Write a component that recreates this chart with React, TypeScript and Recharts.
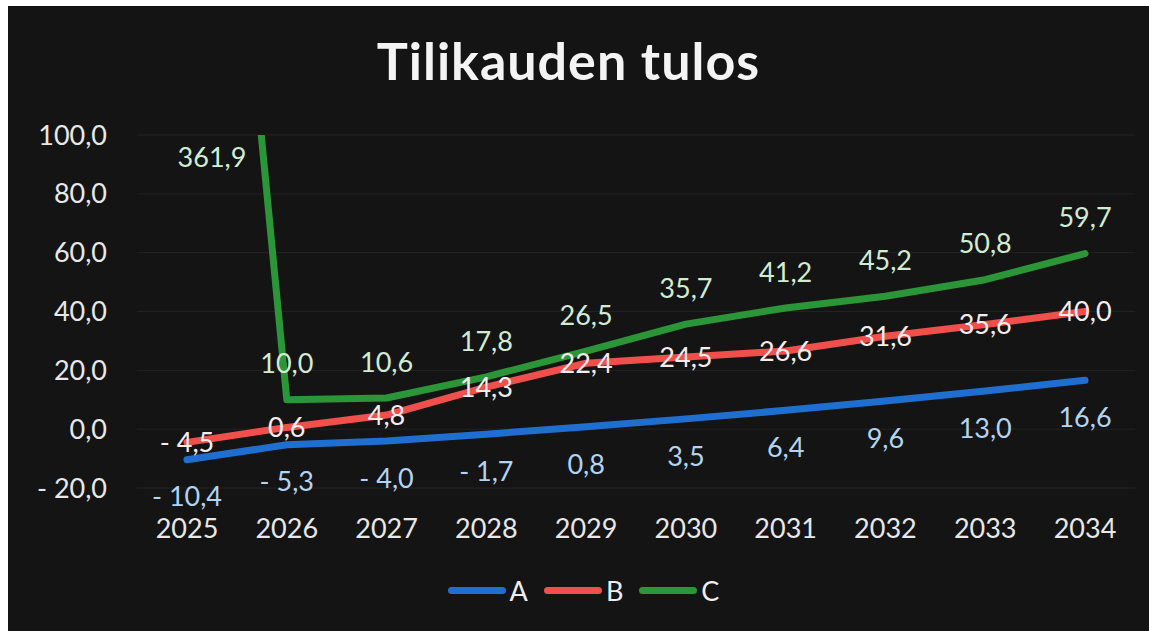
import React from 'react';
import { LineChart, Line, XAxis, YAxis, CartesianGrid, Legend, LabelList } from 'recharts';

const years = ['2025', '2026', '2027', '2028', '2029', '2030', '2031', '2032', '2033', '2034'];
const seriesA = [-10.4, -5.3, -4.0, -1.7, 0.8, 3.5, 6.4, 9.6, 13.0, 16.6];
const seriesB = [-4.5, 0.6, 4.8, 14.3, 22.4, 24.5, 26.6, 31.6, 35.6, 40.0];
const seriesC = [361.9, 10.0, 10.6, 17.8, 26.5, 35.7, 41.2, 45.2, 50.8, 59.7];
const yTicks = [-20, 0, 20, 40, 60, 80, 100];
const seriesNames = ['A', 'B', 'C'];

const data = years.map((year, i) => ({ year, A: seriesA[i], B: seriesB[i], C: seriesC[i] }));

const FONT = 'Lato, "Open Sans", sans-serif';
const FS = 27;
const Y_MIN = -20;
const Y_MAX = 100;
const MARGIN = { top: 129, right: 14, left: 29, bottom: 83 };

const COLORS: Record<string, string> = { A: '#1f6fd1', B: '#f0504c', C: '#2b9638' };
const LABEL_COLORS: Record<string, string> = { A: '#b3d3f2', B: '#f6ecec', C: '#d2ecd2' };

const fmt = (v: number) => (v < 0 ? '- ' : '') + Math.abs(v).toFixed(1).replace('.', ',');

const makeLabel = (key: string, offset: number) => (props: any) => {
  const { x, y, value } = props;
  if (x == null || y == null || value == null) return null;
  let cx = Number(x);
  let cy = Number(y) + offset;
  if (Number(value) > Y_MAX) {
    cx = cx + 25;
    cy = MARGIN.top + 22;
  }
  return (
    <text
      x={cx}
      y={cy + FS * 0.36}
      textAnchor="middle"
      fill={LABEL_COLORS[key]}
      fontSize={FS}
      fontFamily={FONT}
    >
      {fmt(Number(value))}
    </text>
  );
};

const renderLegend = () => (
  <div
    style={{
      display: 'flex',
      justifyContent: 'center',
      alignItems: 'center',
      height: 44,
      paddingLeft: 26,
      fontFamily: FONT,
      fontSize: FS,
      color: '#eeeeee',
    }}
  >
    {seriesNames.map((n) => (
      <div key={n} style={{ display: 'flex', alignItems: 'center', marginRight: 16 }}>
        <div style={{ width: 58, height: 7, borderRadius: 4, background: COLORS[n], marginRight: 4 }} />
        <span>{n}</span>
      </div>
    ))}
  </div>
);

export default function App() {
  return (
    <div style={{ position: 'absolute', left: 8, top: 6, width: 1141, height: 625, background: '#141414' }}>
      <div
        style={{
          position: 'absolute',
          left: -10,
          top: 28,
          width: 1141,
          textAlign: 'center',
          fontFamily: FONT,
          fontWeight: 700,
          fontSize: 52,
          lineHeight: '52px',
          color: '#f4f4f4',
          letterSpacing: 1,
        }}
      >
        Tilikauden tulos
      </div>
      <LineChart width={1141} height={625} data={data} margin={MARGIN}>
        <CartesianGrid vertical={false} stroke="#222222" strokeWidth={1} />
        <XAxis
          dataKey="year"
          padding={{ left: 50, right: 50 }}
          axisLine={false}
          tickLine={false}
          tickMargin={25}
          height={60}
          tick={{ fill: '#e8e8e8', fontSize: FS, fontFamily: FONT }}
          interval={0}
        />
        <YAxis
          domain={[Y_MIN, Y_MAX]}
          ticks={yTicks}
          allowDataOverflow
          axisLine={false}
          tickLine={false}
          tickMargin={24}
          width={100}
          tickFormatter={fmt}
          tick={{ fill: '#e8e8e8', fontSize: FS, fontFamily: FONT }}
        />
        <Legend
          layout="horizontal"
          verticalAlign="middle"
          align="center"
          wrapperStyle={{ top: 562, left: 0, width: 1141 }}
          content={renderLegend}
        />
        <Line
          dataKey="A"
          stroke={COLORS.A}
          strokeWidth={7}
          strokeLinecap="round"
          strokeLinejoin="round"
          dot={false}
          type="linear"
          isAnimationActive={false}
        >
          <LabelList dataKey="A" content={makeLabel('A', 37)} />
        </Line>
        <Line
          dataKey="B"
          stroke={COLORS.B}
          strokeWidth={7}
          strokeLinecap="round"
          strokeLinejoin="round"
          dot={false}
          type="linear"
          isAnimationActive={false}
        >
          <LabelList dataKey="B" content={makeLabel('B', 0)} />
        </Line>
        <Line
          dataKey="C"
          stroke={COLORS.C}
          strokeWidth={7}
          strokeLinecap="round"
          strokeLinejoin="round"
          dot={false}
          type="linear"
          isAnimationActive={false}
        >
          <LabelList dataKey="C" content={makeLabel('C', -36)} />
        </Line>
      </LineChart>
    </div>
  );
}
